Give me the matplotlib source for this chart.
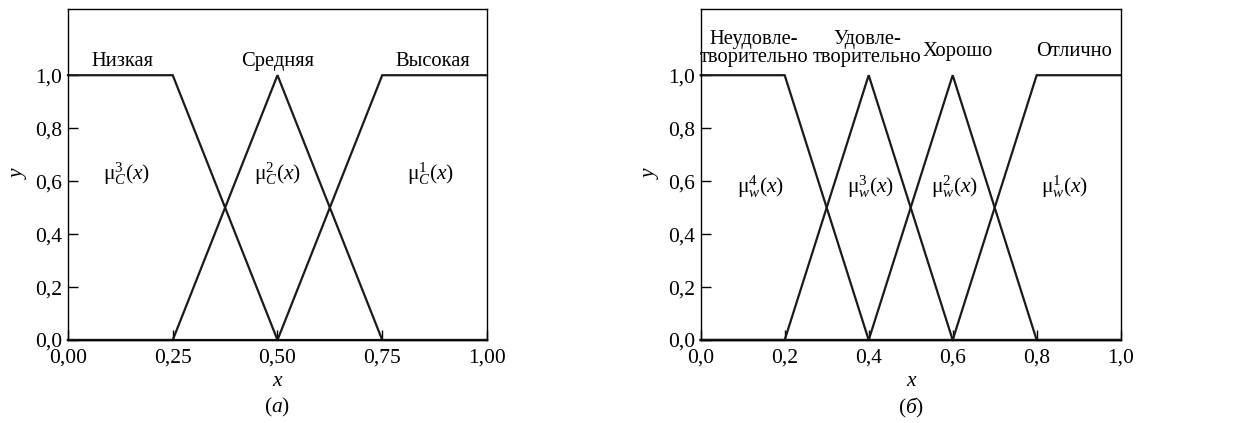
import matplotlib
matplotlib.use('Agg')
import matplotlib.pyplot as plt

plt.rcParams['font.family'] = 'Liberation Serif'
plt.rcParams['mathtext.fontset'] = 'custom'
plt.rcParams['mathtext.rm'] = 'Liberation Serif'
plt.rcParams['mathtext.it'] = 'Liberation Serif:italic'

# (a) three terms on [0, 1]
xa = [0.0, 0.25, 0.5, 0.75, 1.0]
low_a = [1.0, 1.0, 0.0, 0.0, 0.0]
mid_a = [0.0, 0.0, 1.0, 0.0, 0.0]
high_a = [0.0, 0.0, 0.0, 1.0, 1.0]
xticks_a = [0.0, 0.25, 0.5, 0.75, 1.0]
xlabels_a = ['0,00', '0,25', '0,50', '0,75', '1,00']
terms_a = ['Низкая', 'Средняя', 'Высокая']
terms_a_x = [0.13, 0.5, 0.87]
mu_a = [r'$\mathrm{μ}_C^3(x)$', r'$\mathrm{μ}_C^2(x)$', r'$\mathrm{μ}_C^1(x)$']
mu_a_x = [0.14, 0.5, 0.865]

# (б) four terms on [0, 1]
xb = [0.0, 0.2, 0.4, 0.6, 0.8, 1.0]
w4 = [1.0, 1.0, 0.0, 0.0, 0.0, 0.0]
w3 = [0.0, 0.0, 1.0, 0.0, 0.0, 0.0]
w2 = [0.0, 0.0, 0.0, 1.0, 0.0, 0.0]
w1 = [0.0, 0.0, 0.0, 0.0, 1.0, 1.0]
xticks_b = [0.0, 0.2, 0.4, 0.6, 0.8, 1.0]
xlabels_b = ['0,0', '0,2', '0,4', '0,6', '0,8', '1,0']
terms_b = ['Неудовле-\nтворительно', 'Удовле-\nтворительно', 'Хорошо', 'Отлично']
terms_b_x = [0.127, 0.396, 0.613, 0.89]
terms_b_y = [1.10, 1.10, 1.09, 1.09]
mu_b = [r'$\mathrm{μ}_w^4(x)$', r'$\mathrm{μ}_w^3(x)$', r'$\mathrm{μ}_w^2(x)$', r'$\mathrm{μ}_w^1(x)$']
mu_b_x = [0.143, 0.405, 0.605, 0.867]

yticks = [0.0, 0.2, 0.4, 0.6, 0.8, 1.0]
ylabels = ['0,0', '0,2', '0,4', '0,6', '0,8', '1,0']

fig = plt.figure(figsize=(12.36, 4.23), dpi=100)
ax1 = fig.add_axes([0.0550, 0.1962, 0.3390, 0.7825])
ax2 = fig.add_axes([0.5669, 0.1962, 0.3398, 0.7825])

fs = 15.5
fs_terms = 14.8


def setup(ax, xt, xl, caption):
    ax.set_xlim(0, 1)
    ax.set_ylim(0, 1.25)
    ax.set_xticks(xt)
    ax.set_xticklabels(xl, fontsize=fs)
    ax.set_yticks(yticks)
    ax.set_yticklabels(ylabels, fontsize=fs)
    ax.tick_params(direction='in', length=7, width=1, pad=4)
    ax.tick_params(axis='x', pad=6)
    for s in ax.spines.values():
        s.set_linewidth(1.0)
    ax.set_xlabel('x', fontsize=fs, fontstyle='italic', labelpad=3)
    ax.set_ylabel('y', fontsize=fs, fontstyle='italic', labelpad=5)
    ax.text(0.5, -0.205, caption, transform=ax.transAxes, ha='center', va='center', fontsize=fs)


lw = 1.6
for ys in (low_a, mid_a, high_a):
    ax1.plot(xa, ys, color='#1a1a1a', lw=lw, clip_on=False, solid_joinstyle='miter')
for t, x in zip(terms_a, terms_a_x):
    ax1.text(x, 1.05, t, ha='center', va='center', fontsize=fs_terms)
for t, x in zip(mu_a, mu_a_x):
    ax1.text(x, 0.63, t, ha='center', va='center', fontsize=fs)
setup(ax1, xticks_a, xlabels_a, r'($\mathit{а}$)')

for ys in (w4, w3, w2, w1):
    ax2.plot(xb, ys, color='#1a1a1a', lw=lw, clip_on=False, solid_joinstyle='miter')
for t, x, y in zip(terms_b, terms_b_x, terms_b_y):
    ax2.text(x, y, t, ha='center', va='center', fontsize=fs_terms, linespacing=0.9)
for t, x in zip(mu_b, mu_b_x):
    ax2.text(x, 0.58, t, ha='center', va='center', fontsize=fs)
setup(ax2, xticks_b, xlabels_b, r'($\mathit{б}$)')

fig.savefig('out.png', dpi=100)
